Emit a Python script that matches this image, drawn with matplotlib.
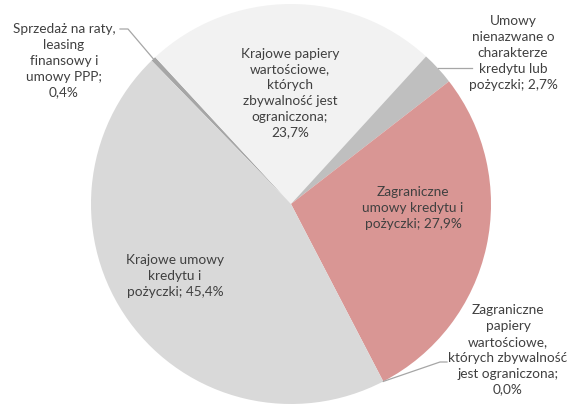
import numpy as np
import matplotlib
matplotlib.use("Agg")
import matplotlib.pyplot as plt

# udziały portfela (%)
labels = [
    "Sprzedaż na raty,\nleasing\nfinansowy i\numowy PPP;\n0,4%",
    "Krajowe papiery\nwartościowe,\nktórych\nzbywalność jest\nograniczona;\n23,7%",
    "Umowy\nnienazwane o\ncharakterze\nkredytu lub\npożyczki; 2,7%",
    "Zagraniczne\numowy kredytu i\npożyczki; 27,9%",
    "Zagraniczne\npapiery\nwartościowe,\nktórych zbywalność\njest ograniczona;\n0,0%",
    "Krajowe umowy\nkredytu i\npożyczki; 45,4%",
]
values = [0.4, 23.7, 2.7, 27.9, 0.0, 45.4]
colors = ["#a6a6a6", "#f2f2f2", "#bfbfbf", "#d99694", "#bfbfbf", "#d9d9d9"]

# pozycje etykiet (piksele, od góry)
label_pos = [(64, 61), (290, 93), (513, 53), (413, 208), (508, 350), (175, 276)]

W, H = 579, 405
fig = plt.figure(figsize=(W / 100, H / 100), dpi=100)
ax = fig.add_axes([0, 0, 1, 1])

cx, cy, r = 291, H - 204, 200
wedges, _ = ax.pie(values, colors=colors, startangle=134.2, counterclock=False,
                   center=(cx, cy), radius=r, frame=True,
                   wedgeprops=dict(linewidth=0))
ax.set_xlim(0, W)
ax.set_ylim(0, H)
ax.set_aspect("auto")
ax.axis("off")

txt = dict(ha="center", va="center", color="#404040", fontsize=9.8,
           family="Lato", linespacing=1.38)
for lab, (x, y) in zip(labels, label_pos):
    ax.text(x, H - y, lab, **txt)

# linie odniesienia
def edge(w):
    a = np.deg2rad((w.theta1 + w.theta2) / 2)
    return cx + r * np.cos(a), cy + r * np.sin(a)

lc = dict(color="#a6a6a6", lw=0.9)
x0, y0 = edge(wedges[0])
ax.plot([x0, 128, 120], [y0, H - 29, H - 29], **lc)
x0, y0 = edge(wedges[2])
ax.plot([x0, 472], [y0, y0], **lc)
x0, y0 = edge(wedges[4])
ax.plot([x0, 440, 447], [y0, H - 362, H - 362], **lc)

fig.savefig("out.png", dpi=100)
